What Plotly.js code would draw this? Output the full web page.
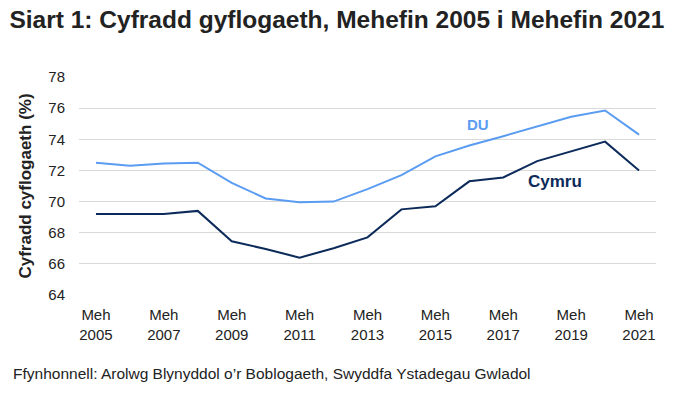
<!DOCTYPE html>
<html><head><meta charset="utf-8">
<script src="https://cdn.plot.ly/plotly-3.0.1.min.js"></script>
<style>html,body{margin:0;padding:0;background:#fff;}#chart{width:677px;height:397px;}</style>
</head><body><div id="chart"></div>
<script>
const years = [2005,2006,2007,2008,2009,2010,2011,2012,2013,2014,2015,2016,2017,2018,2019,2020,2021];
const du = [72.5,72.3,72.45,72.5,71.2,70.2,69.95,70.0,70.8,71.7,72.9,73.6,74.2,74.85,75.45,75.85,74.3];
const cymru = [69.2,69.2,69.2,69.4,67.45,66.95,66.4,67.0,67.7,69.5,69.7,71.3,71.55,72.6,73.2,73.85,72.0];
const tickYears = [2005,2007,2009,2011,2013,2015,2017,2019,2021];
const tickLabels = tickYears.map(y => 'Meh<br>' + y);
const seriesNames = ['DU','Cymru'];
const colDU = '#5a9cf2', colCy = '#0c2a5a';
const font = 'Liberation Sans, Arial, sans-serif';

const traces = [
  {x: years, y: du, name: seriesNames[0], mode: 'lines', line: {color: colDU, width: 2}},
  {x: years, y: cymru, name: seriesNames[1], mode: 'lines', line: {color: colCy, width: 2}}
];
const layout = {
  width: 677, height: 397,
  margin: {l: 79, r: 21, t: 77, b: 102},
  showlegend: false,
  paper_bgcolor: '#fff', plot_bgcolor: '#fff',
  font: {family: font, color: '#222', size: 15},
  title: {text: '<b>Siart 1: Cyfradd gyflogaeth, Mehefin 2005 i Mehefin 2021</b>', x: 0.014, xanchor: 'left', y: 0.952, yanchor: 'middle', font: {family: font, size: 24.5, color: '#222'}},
  xaxis: {range: [2004.5, 2021.5], tickvals: tickYears, ticktext: tickLabels, showgrid: false, zeroline: false, showline: false,
          ticks: 'outside', ticklen: 6, tickcolor: 'rgba(0,0,0,0)', tickfont: {size: 15, color: '#222'}, fixedrange: true},
  yaxis: {range: [64, 78], dtick: 2, showgrid: true, gridcolor: '#d9d9d9', gridwidth: 1, zeroline: false, showline: false,
          ticks: 'outside', ticklen: 10, tickcolor: 'rgba(0,0,0,0)', tickfont: {size: 15, color: '#222'},
          title: {text: '<b>Cyfradd cyflogaeth (%)</b>', font: {size: 17, color: '#222'}, standoff: 12}},
  annotations: [
    {x: 2016.26, y: 74.98, xref: 'x', yref: 'y', text: '<b>DU</b>', showarrow: false, font: {size: 15, color: colDU}},
    {x: 2018.52, y: 71.32, xref: 'x', yref: 'y', text: '<b>Cymru</b>', showarrow: false, font: {size: 17, color: colCy}},
    {x: -0.118, y: -0.36, xref: 'paper', yref: 'paper', xanchor: 'left', yanchor: 'middle', text: 'Ffynhonnell: Arolwg Blynyddol o\u2019r Boblogaeth, Swyddfa Ystadegau Gwladol', showarrow: false, font: {size: 15.5, color: '#222'}}
  ]
};
Plotly.newPlot('chart', traces, layout, {displayModeBar: false, staticPlot: true});
</script></body></html>
